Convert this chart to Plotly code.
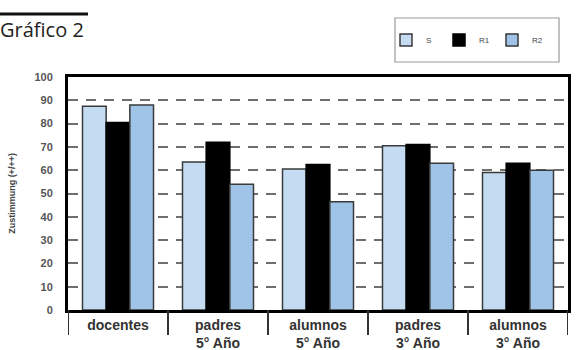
import plotly.graph_objects as go

categories = ["docentes", "padres<br>5° Año", "alumnos<br>5° Año", "padres<br>3° Año", "alumnos<br>3° Año"]
series_names = ["S", "R1", "R2"]
s_values = [87.5, 63.5, 60.5, 70.5, 59]
r1_values = [80.5, 72, 62.5, 71, 63]
r2_values = [88, 54, 46.5, 63, 60]
y_ticks = [0, 10, 20, 30, 40, 50, 60, 70, 80, 90, 100]

colors = ["#c4dcf1", "#000000", "#9fc4e8"]
outlines = ["#3a3a3a", "#000000", "#3a3a3a"]

fig = go.Figure()
for name, vals, c, oc in zip(series_names, [s_values, r1_values, r2_values], colors, outlines):
    fig.add_trace(go.Bar(
        x=categories, y=vals, name=name,
        marker=dict(color=c, line=dict(color=oc, width=1.5)),
    ))

L, R, T, B = 68, 9, 77, 40
W, H = 577, 350
pw, ph = W - L - R, H - T - B

shapes = []
# category separators below the axis
for i in range(len(categories) + 1):
    shapes.append(dict(type="line", xref="x", yref="paper", x0=i - 0.5, x1=i - 0.5,
                       y0=0, y1=-25 / ph, line=dict(color="#333333", width=2)))
# legend box
shapes.append(dict(type="rect", xref="paper", yref="paper",
                   x0=(395 - L) / pw, x1=(559 - L) / pw,
                   y0=(H - B - 62) / ph, y1=(H - B - 18) / ph,
                   line=dict(color="#9a9a9a", width=1.2), fillcolor="rgba(0,0,0,0)"))
# rule above the title
shapes.append(dict(type="line", xref="paper", yref="paper",
                   x0=(0 - L) / pw, x1=(88 - L) / pw,
                   y0=(H - B - 14) / ph, y1=(H - B - 14) / ph,
                   line=dict(color="#111111", width=3)))

fig.update_layout(
    width=W, height=H,
    margin=dict(l=L, r=R, t=T, b=B, pad=0, autoexpand=False),
    paper_bgcolor="white", plot_bgcolor="white",
    barmode="group", bargap=0.29, bargroupgap=0,
    title=dict(text="Gráfico 2", x=0, xref="container", xanchor="left",
               y=1 - 30 / H, yref="container", yanchor="middle",
               font=dict(family="Open Sans", size=20, color="#222222")),
    showlegend=True,
    legend=dict(orientation="h", x=(386 - L) / pw, xanchor="left",
                y=(H - B - 40) / ph, yanchor="middle",
                entrywidth=8, entrywidthmode="pixels",
                font=dict(family="Liberation Sans", size=8, color="#444444"),
                bgcolor="rgba(0,0,0,0)", borderwidth=0),
    shapes=shapes,
    font=dict(family="Liberation Sans", color="#333333"),
)
fig.update_xaxes(
    type="category", range=[-0.5, len(categories) - 0.5],
    showline=True, linecolor="black", linewidth=3, mirror=True,
    ticks="", showgrid=False,
    tickfont=dict(family="Liberation Sans", size=14, color="#333333", weight="bold"),
)
fig.update_yaxes(
    range=[0, 100], tickvals=y_ticks,
    showline=True, linecolor="black", linewidth=3, mirror=True,
    showgrid=True, gridcolor="#6e6e6e", gridwidth=2, griddash="10px,8px",
    zeroline=False, ticks="", ticklabelstandoff=10,
    tickfont=dict(family="Liberation Sans", size=11, color="#555555", weight="bold"),
    title=dict(text="Zustimmung (+/++)", standoff=18,
               font=dict(family="Liberation Sans", size=9, color="#444444", weight="bold")),
)

fig.write_html("out.html")
